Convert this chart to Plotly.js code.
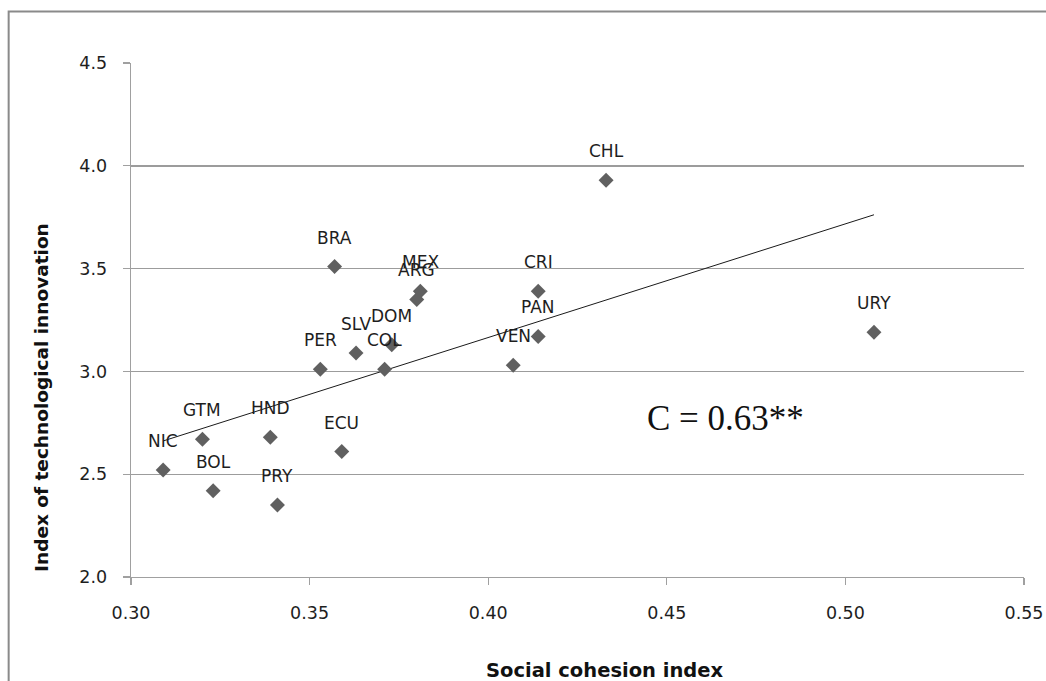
<!DOCTYPE html>
<html>
<head>
<meta charset="utf-8">
<script src="https://cdn.plot.ly/plotly-3.0.1.min.js"></script>
<style>
  html, body { margin: 0; padding: 0; background: #fff; }
  #chart { width: 1046px; height: 681px; }
</style>
</head>
<body>
<div id="chart"></div>
<script>
// Country codes
const countries = ["NIC","GTM","BOL","HND","PRY","ECU","PER","SLV","COL","DOM","BRA","MEX","ARG","CRI","PAN","VEN","CHL","URY"];
// Social cohesion index (x)
const cohesion = [0.309,0.320,0.323,0.339,0.341,0.359,0.353,0.363,0.371,0.373,0.357,0.381,0.380,0.414,0.414,0.407,0.433,0.508];
// Index of technological innovation (y)
const innovation = [2.52,2.67,2.42,2.68,2.35,2.61,3.01,3.09,3.01,3.13,3.51,3.39,3.35,3.39,3.17,3.03,3.93,3.19];
// Axis tick values
const xTicks = [0.30,0.35,0.40,0.45,0.50,0.55];
const yTicks = [2.0,2.5,3.0,3.5,4.0,4.5];
const corrLabel = "C = 0.63**";

// Least-squares trend line (as Excel's linear trendline)
const n = cohesion.length;
const mx = cohesion.reduce((a,b)=>a+b,0)/n;
const my = innovation.reduce((a,b)=>a+b,0)/n;
let sxy = 0, sxx = 0;
for (let i = 0; i < n; i++) { sxy += (cohesion[i]-mx)*(innovation[i]-my); sxx += (cohesion[i]-mx)**2; }
const slope = sxy/sxx, icpt = my - slope*mx;
const xmin = Math.min(...cohesion), xmax = Math.max(...cohesion);
const trendX = [xmin, xmax];
const trendY = trendX.map(v => icpt + slope*v);

const FONT = "DejaVu Sans, Verdana, sans-serif";

const traces = [
  {
    x: trendX, y: trendY, mode: "lines", type: "scatter",
    line: {color: "#1a1a1a", width: 1}, hoverinfo: "skip", showlegend: false
  },
  {
    x: cohesion, y: innovation, mode: "markers", type: "scatter",
    text: countries,
    marker: {symbol: "diamond", size: 11.5, color: "#606060"},
    showlegend: false
  }
];

const annotations = countries.map((c, i) => ({
  x: cohesion[i], y: innovation[i], xref: "x", yref: "y",
  xanchor: "center", yanchor: "middle",
  text: c, showarrow: false, yshift: 29,
  font: {family: FONT, size: 17, color: "#1e1e1e"}
}));

annotations.push({
  xref: "paper", yref: "paper", x: 0.6656, y: 0.308,
  xanchor: "center", yanchor: "middle",
  text: corrLabel, showarrow: false,
  font: {family: "Liberation Serif, Times New Roman, serif", size: 35, color: "#111"}
});
annotations.push({
  xref: "paper", yref: "paper", x: -0.101, y: 0.350, textangle: -90,
  xanchor: "center", yanchor: "middle",
  text: "<b>Index of technological innovation</b>", showarrow: false,
  font: {family: FONT, size: 18.5, color: "#111"}
});
annotations.push({
  xref: "paper", yref: "paper", x: 0.5306, y: -0.181,
  xanchor: "center", yanchor: "middle",
  text: "<b>Social cohesion index</b>", showarrow: false,
  font: {family: FONT, size: 19.5, color: "#111"}
});

const layout = {
  width: 1046, height: 681,
  margin: {l: 131, r: 22, t: 63, b: 104},
  paper_bgcolor: "#fff", plot_bgcolor: "#fff",
  showlegend: false,
  xaxis: {
    range: [0.30, 0.55], tickvals: xTicks, tickformat: ".2f",
    showgrid: false, zeroline: false,
    showline: true, linecolor: "#a0a0a0", linewidth: 1.3,
    ticks: "outside", ticklen: 7, tickcolor: "#a0a0a0", tickwidth: 1.3,
    ticklabelstandoff: 13,
    tickfont: {family: FONT, size: 17.5, color: "#1e1e1e"}
  },
  yaxis: {
    range: [2.0, 4.5], tickvals: yTicks, tickformat: ".1f",
    showgrid: true, gridcolor: "#9c9c9c", gridwidth: 1.4, zeroline: false,
    showline: true, linecolor: "#a0a0a0", linewidth: 1.3,
    ticks: "outside", ticklen: 7, tickcolor: "#a0a0a0", tickwidth: 1.3,
    ticklabelstandoff: 12,
    tickfont: {family: FONT, size: 17.5, color: "#1e1e1e"}
  },
  shapes: [{
    type: "rect", xref: "paper", yref: "paper",
    x0: -0.137, x1: 1.2, y0: -0.5, y1: 1.100,
    line: {color: "#8a8a8a", width: 2}, layer: "below"
  }],
  annotations: annotations
};

Plotly.newPlot("chart", traces, layout, {displayModeBar: false, staticPlot: true});
</script>
</body>
</html>
